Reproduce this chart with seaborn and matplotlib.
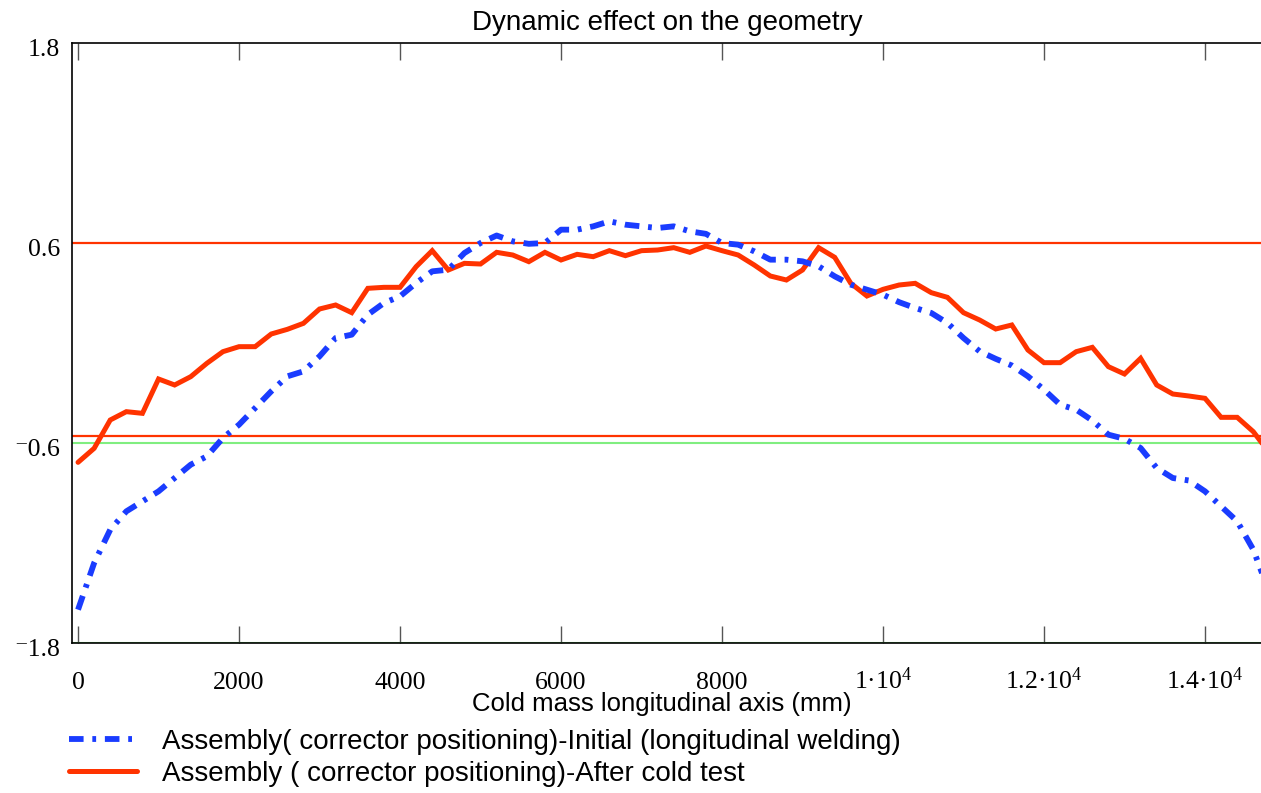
import numpy as np
import pandas as pd
import matplotlib
matplotlib.use("Agg")
import matplotlib.pyplot as plt
import seaborn as sns
from matplotlib.transforms import ScaledTranslation

# ---------------- data ----------------
x_mm = np.arange(0, 14801, 200)

initial = [-1.60, -1.32, -1.12, -1.01, -0.95, -0.89, -0.81, -0.73, -0.68, -0.57,
           -0.49, -0.39, -0.29, -0.20, -0.17, -0.08, 0.03, 0.05, 0.17, 0.24,
           0.28, 0.36, 0.43, 0.44, 0.54, 0.60, 0.645, 0.61, 0.595, 0.60,
           0.68, 0.68, 0.70, 0.73, 0.71, 0.70, 0.69, 0.70, 0.67, 0.655,
           0.60, 0.59, 0.55, 0.50, 0.50, 0.49, 0.46, 0.40, 0.35, 0.32,
           0.29, 0.245, 0.21, 0.18, 0.12, 0.03, -0.05, -0.095, -0.135, -0.20,
           -0.28, -0.37, -0.40, -0.465, -0.55, -0.575, -0.63, -0.75, -0.81, -0.825,
           -0.89, -0.98, -1.07, -1.24, -1.50]

after_cold = [-0.716, -0.632, -0.462, -0.412, -0.422, -0.216, -0.252, -0.202, -0.122, -0.052,
              -0.022, -0.022, 0.054, 0.082, 0.118, 0.204, 0.228, 0.182, 0.328, 0.334,
              0.334, 0.458, 0.554, 0.438, 0.478, 0.474, 0.544, 0.528, 0.488, 0.544,
              0.498, 0.532, 0.518, 0.554, 0.524, 0.554, 0.558, 0.572, 0.544, 0.582,
              0.554, 0.528, 0.468, 0.402, 0.378, 0.438, 0.572, 0.514, 0.358, 0.282,
              0.322, 0.348, 0.358, 0.302, 0.274, 0.182, 0.138, 0.084, 0.108, -0.042,
              -0.118, -0.118, -0.052, -0.026, -0.142, -0.186, -0.092, -0.252, -0.306, -0.318,
              -0.332, -0.446, -0.446, -0.532, -0.66]

red_limits = [0.6, -0.56]
green_refs = [-0.6, -1.8]

x_ticks = [0, 2000, 4000, 6000, 8000, 10000, 12000, 14000]
x_tick_labels = ["0", "2000", "4000", "6000", "8000",
                 "$1\u00b710^{4}$", "$1.2\u00b710^{4}$", "$1.4\u00b710^{4}$"]
y_ticks = [1.8, 0.6, -0.6, -1.8]
y_tick_labels = ["1.8", "0.6", "\u207b0.6", "\u207b1.8"]

label_initial = "Assembly( corrector positioning)-Initial (longitudinal welding)"
label_after = "Assembly ( corrector positioning)-After cold test"
title = "Dynamic effect on the geometry"
xlabel = "Cold mass longitudinal axis (mm)"

# ---------------- style ----------------
sns.set_theme(style="white")
plt.rcParams["font.family"] = ["Liberation Sans", "DejaVu Sans"]
plt.rcParams["mathtext.fontset"] = "custom"
plt.rcParams["mathtext.rm"] = "Liberation Serif"
plt.rcParams["mathtext.it"] = "Liberation Serif"
plt.rcParams["mathtext.bf"] = "Liberation Serif:bold"
for k in ["text.color", "axes.labelcolor", "xtick.color", "ytick.color"]:
    plt.rcParams[k] = "black"
SERIF = ["Liberation Serif", "DejaVu Serif"]
BLUE = "#1a3cff"
RED = "#ff3300"
GREEN = "#80ee80"

W, H = 1261, 793
fig = plt.figure(figsize=(W / 100, H / 100), dpi=100)
fig.patch.set_facecolor("white")
ax = fig.add_axes([72 / W, 150 / H, 1190 / W, 600 / H])
ax.set_facecolor("white")

df = pd.DataFrame({"x": x_mm, "initial": initial, "after": after_cold})

for v in green_refs:
    ax.axhline(v, color=GREEN, lw=1.5, zorder=1)
for v in red_limits:
    ax.axhline(v, color=RED, lw=1.6, zorder=1.1)

sns.lineplot(data=df, x="x", y="after", ax=ax, color=RED, lw=3.6,
             estimator=None, sort=False, label=label_after, zorder=3)
line_after = ax.lines[-1]
line_after.set_solid_joinstyle("miter")
sns.lineplot(data=df, x="x", y="initial", ax=ax, color=BLUE, lw=4.2,
             estimator=None, sort=False, label=label_initial, zorder=4)
line_init = ax.lines[-1]
line_init.set_linestyle((0, (2.5, 1.5, 0.65, 1.5)))
line_init.set_dash_capstyle("butt")

ax.set_xlim(-75, 14708)
ax.set_ylim(-1.8, 1.8)

ax.set_xticks(x_ticks)
ax.set_xticklabels(x_tick_labels, fontfamily=SERIF, fontsize=18.5)
ax.set_yticks(y_ticks)
ax.set_yticklabels(y_tick_labels, fontfamily=SERIF, fontsize=18.5)

ax.tick_params(axis="x", which="major", direction="in", length=12.2, width=1.0,
               color="#555555", top=True, bottom=True, pad=33, labelcolor="black")
ax.tick_params(axis="y", which="major", length=0, pad=8.6, labelcolor="black")

for t in ax.xaxis.get_major_ticks():
    t.label1.set_verticalalignment("baseline")

for sp in ["left", "top", "bottom"]:
    ax.spines[sp].set_visible(True)
    ax.spines[sp].set_color("black")
    ax.spines[sp].set_linewidth(1.2)
ax.spines["right"].set_visible(False)

ax.set_title(title, fontsize=20, pad=9.0, color="black")
ax.set_xlabel(xlabel, fontsize=18.5, color="black")
ax.xaxis.set_label_coords(0.496, -0.081)
ax.set_ylabel("")

handles = [line_init, line_after]
labels = [label_initial, label_after]
leg = ax.legend(handles, labels, loc="center left",
                bbox_to_anchor=(69 / W, 1 - 758 / H), bbox_transform=fig.transFigure,
                frameon=False, borderpad=0, borderaxespad=0, handlelength=2.45,
                handletextpad=0.9, labelspacing=0.22, prop={"size": 20})
for txt in leg.get_texts():
    txt.set_color("black")

# nudge y tick labels slightly downward
off = ScaledTranslation(0, -4.5 / 100, fig.dpi_scale_trans)
for lbl in ax.get_yticklabels():
    lbl.set_transform(lbl.get_transform() + off)

fig.savefig("out.png", dpi=100, facecolor="white")
